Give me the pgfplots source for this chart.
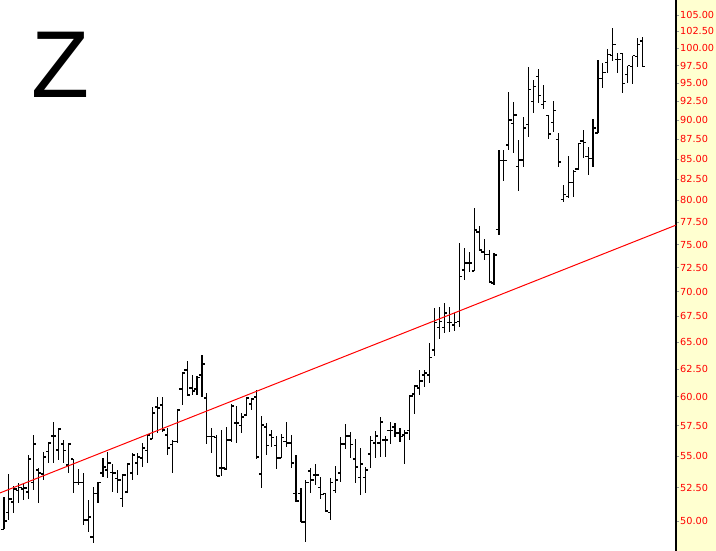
\documentclass[border=0pt]{standalone}
\usepackage{pgfplots}
\pgfplotsset{compat=1.18}
\usepackage{pgfplotstable}
\usepackage{fontspec}
\setmainfont{Liberation Sans}
\newfontfamily\tickfont{DejaVu Sans}
\definecolor{panel}{RGB}{255,255,208}
\pgfplotstableread{
i o h l c
0 49.41 51.79 49.41 50.00
1 50.66 53.57 50.07 51.64
2 51.41 52.63 50.59 52.40
3 52.32 52.87 51.34 52.55
4 52.40 52.87 51.56 52.48
5 52.17 55.08 51.64 54.76
6 52.87 56.72 52.32 55.98
7 53.88 54.04 51.34 53.65
8 53.57 55.33 53.10 54.92
9 55.33 56.15 54.44 56.06
10 56.64 57.81 54.44 56.64
11 55.49 57.31 54.68 57.22
12 55.98 56.31 54.44 55.41
13 54.28 55.98 53.65 55.98
14 54.76 54.76 52.09 52.87
15 52.87 53.96 52.71 52.87
16 52.87 53.65 49.71 50.07
17 50.07 51.56 49.20 50.29
18 48.84 52.55 48.42 52.09
19 52.09 52.94 51.34 52.87
20 53.65 54.84 53.33 54.12
21 53.88 55.33 53.26 54.44
22 53.72 54.36 52.17 53.65
23 53.18 53.88 52.09 53.10
24 51.71 53.57 51.03 53.49
25 52.17 54.44 52.09 54.36
26 53.65 55.25 53.10 55.08
27 54.44 55.25 53.49 54.92
28 54.84 56.06 54.12 55.65
29 55.41 56.72 54.44 56.72
30 56.39 59.10 56.39 58.58
31 59.10 59.97 56.89 59.01
32 59.27 59.97 56.97 57.14
33 56.72 57.31 55.08 55.65
34 55.90 56.31 53.65 56.15
35 56.15 58.93 56.06 58.84
36 60.68 62.21 59.27 62.12
37 62.39 63.22 60.15 60.15
38 60.77 61.94 60.15 60.50
39 60.68 61.85 60.15 61.75
40 61.94 63.78 59.97 62.94
41 59.88 60.33 55.98 56.56
42 56.56 57.31 55.25 56.56
43 56.48 56.72 53.41 53.41
44 54.04 57.14 53.41 54.04
45 53.96 57.39 53.96 56.31
46 56.31 59.36 56.15 59.19
47 57.73 59.19 56.06 57.73
48 57.48 58.58 56.89 58.24
49 58.41 59.97 58.41 59.88
50 59.36 59.88 58.84 59.80
51 59.97 60.59 54.76 54.92
52 53.57 58.32 52.48 57.56
53 57.39 57.73 55.08 55.82
54 56.72 57.14 55.74 56.48
55 55.82 56.64 53.96 54.84
56 54.84 56.81 54.84 56.48
57 56.15 57.81 55.74 56.06
58 56.06 56.72 54.04 54.44
59 52.09 55.08 51.41 51.49
60 52.09 52.48 49.93 49.93
61 49.93 53.10 48.49 52.87
62 53.80 54.04 52.09 53.10
63 53.49 54.36 52.71 53.49
64 52.55 53.33 51.64 52.01
65 52.09 52.09 50.66 50.74
66 50.66 53.26 50.07 52.87
67 52.32 54.20 52.09 53.10
68 53.65 56.56 52.94 55.98
69 55.98 57.64 55.57 56.64
70 56.64 56.97 54.84 55.90
71 54.76 56.39 52.87 54.12
72 53.26 55.65 51.94 54.36
73 53.26 54.12 52.09 53.88
74 55.16 56.64 54.04 56.23
75 56.06 57.06 54.84 56.64
76 56.06 58.24 54.92 57.81
77 56.31 56.64 54.92 56.31
78 57.06 57.81 55.98 57.06
79 57.39 57.73 56.56 56.89
80 56.89 57.31 56.15 56.56
81 56.72 57.14 54.36 56.89
82 57.06 60.15 56.31 60.06
83 60.24 61.04 58.49 60.95
84 60.77 62.39 60.15 61.39
85 61.94 62.39 60.86 62.12
86 61.94 64.91 61.21 63.59
87 64.25 68.33 63.69 66.85
88 66.36 68.43 65.30 67.04
89 66.36 68.84 65.87 67.83
90 66.85 68.43 65.97 66.85
91 66.65 67.83 66.06 66.94
92 67.04 75.16 66.46 71.61
93 72.25 74.62 71.19 72.99
94 72.99 74.18 72.04 72.99
95 72.14 79.12 72.14 76.61
96 76.39 77.06 74.29 74.40
97 74.18 75.60 73.31 73.96
98 73.96 74.40 70.98 70.98
99 70.88 74.07 70.67 73.86
100 76.72 86.15 76.05 84.77
101 84.77 86.15 82.32 84.77
102 86.78 93.80 86.15 90.02
103 89.50 92.43 85.77 90.68
104 84.03 87.42 81.12 84.89
105 84.89 90.42 84.03 88.97
106 89.37 97.30 87.81 94.07
107 92.43 95.46 90.95 94.49
108 95.88 97.01 92.29 93.25
109 92.03 94.77 91.49 92.43
110 90.55 90.68 87.55 88.19
111 89.63 92.57 88.45 91.22
112 87.42 88.32 84.03 84.64
113 80.06 81.84 79.83 80.65
114 80.42 85.39 80.30 82.08
115 82.08 83.66 80.42 83.42
116 83.78 87.04 83.66 86.91
117 87.29 88.71 85.14 87.04
118 85.27 86.53 83.05 85.02
119 85.02 90.15 84.03 88.97
120 88.32 98.30 88.32 95.60
121 95.60 97.87 94.35 96.45
122 97.87 99.90 96.45 99.03
123 98.88 103.02 98.16 100.49
124 98.30 99.32 96.45 98.30
125 99.17 99.32 93.66 94.90
126 96.17 97.44 95.04 97.44
127 97.30 98.88 94.90 98.88
128 98.74 101.52 97.30 100.49
129 101.07 101.67 97.30 97.30
}\ohlc
\begin{document}
\begin{tikzpicture}
\fill[panel] (676bp,0) rectangle (716bp,551bp);
\begin{axis}[
  at={(0bp,0bp)}, anchor=south west,
  scale only axis, width=676bp, height=551bp,
  xmin=-0.808, xmax=135.76,
  ymode=log, ymin=47.85, ymax=107.34,
  axis x line=none,
  axis y line*=right,
  axis line style={black, line width=1.2bp, -},
  ytick={50,52.5,55,57.5,60,62.5,65,67.5,70,72.5,75,77.5,80,82.5,85,87.5,90,92.5,95,97.5,100,102.5,105},
  yticklabels={50.00,52.50,55.00,57.50,60.00,62.50,65.00,67.50,70.00,72.50,75.00,77.50,80.00,82.50,85.00,87.50,90.00,92.50,95.00,97.50,100.00,102.50,105.00},
  yminorticks=false,
  tick align=outside,
  major tick length=3bp,
  ytick style={gray!80, line width=0.6bp},
  yticklabel style={text=red, font=\tickfont\fontsize{9.7bp}{11bp}\selectfont, inner sep=0pt, xshift=1bp},
]
\addplot[draw=none, no markers, error bars/.cd, y dir=both, y explicit, x dir=plus, x fixed=0.55, error mark=none, error bar style={draw=black, solid, line width=1.1bp}]
  table[x=i, y=c, y error plus expr=\thisrow{h}-\thisrow{c}, y error minus expr=\thisrow{c}-\thisrow{l}] {\ohlc};
\addplot[draw=none, no markers, error bars/.cd, x dir=minus, x fixed=0.55, error mark=none, error bar style={draw=black, solid, line width=1.1bp}]
  table[x=i, y=o] {\ohlc};
\addplot[red, line width=1bp, no marks] coordinates {(-0.808,52.10) (135.76,77.17)};
\end{axis}
\node[anchor=base west, inner sep=0pt, font=\fontsize{95bp}{95bp}\selectfont] at (31bp,453bp) {Z};
\pgfresetboundingbox
\path[use as bounding box] (0,0) rectangle (716bp,551bp);
\end{tikzpicture}
\end{document}
